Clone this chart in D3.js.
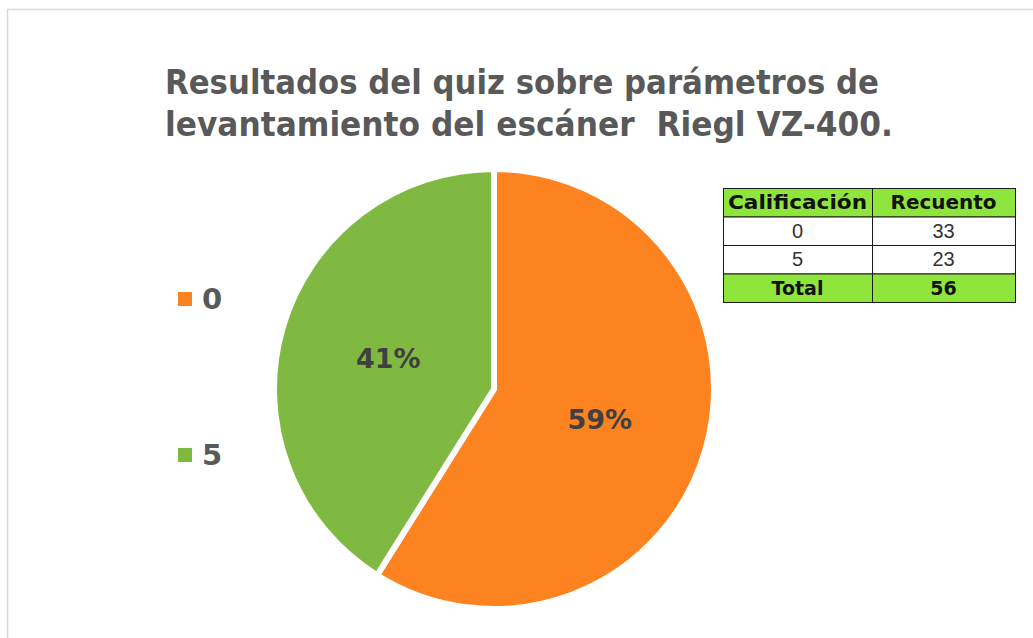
<!DOCTYPE html>
<html>
    <head>
        <title>Resultados del quiz</title>
        <style>
            body { margin: 0; background: #ffffff; }
            svg { display: block; }
        </style>
        <script src="https://cdnjs.cloudflare.com/ajax/libs/d3/7.8.5/d3.min.js" charset="utf-8"></script>
    </head>
    <body>
        <div id="chart"></div>
        <script>
            // data
            const categories = ["0", "5"];
            const counts = [33, 23];
            const colors = ["#fd8320", "#80b942"];
            const titleLines = ["Resultados del quiz sobre parámetros de", "levantamiento del escáner  Riegl VZ-400."];
            const tableHeader = ["Calificación", "Recuento"];
            const totalLabel = "Total";

            const w = 1033;
            const h = 638;
            const total = d3.sum(counts);

            const svg = d3.select("#chart")
                .append("svg")
                .attr("width", w)
                .attr("height", h);

            // chart area border
            svg.append("rect")
                .attr("x", 7.5).attr("y", 9.5)
                .attr("width", 1100).attr("height", 700)
                .attr("fill", "none")
                .attr("stroke", "#d9d9d9")
                .attr("stroke-width", 1.5);

            // title
            svg.selectAll("text.title")
                .data(titleLines)
                .enter()
                .append("text")
                .attr("class", "title")
                .attr("x", 165)
                .attr("y", (d, i) => 94 + i * 42)
                .attr("textLength", (d, i) => i === 0 ? 714 : 728)
                .attr("lengthAdjust", "spacingAndGlyphs")
                .style("font-family", "'DejaVu Sans', sans-serif")
                .style("font-weight", "bold")
                .style("font-size", "33px")
                .style("fill", "#595959")
                .style("white-space", "pre")
                .text(d => d);

            // pie
            const cx = 494, cy = 389, radius = 220;
            const pie = d3.pie().sort(null).value(d => d);
            const arc = d3.arc().innerRadius(0).outerRadius(radius);
            const arcs = pie(counts);

            const g = svg.append("g").attr("transform", "translate(" + cx + "," + cy + ")");

            g.selectAll("path")
                .data(arcs)
                .enter()
                .append("path")
                .attr("d", arc)
                .attr("fill", (d, i) => colors[i])
                .attr("stroke", "#ffffff")
                .attr("stroke-width", 6)
                .attr("stroke-linejoin", "round");

            g.selectAll("text")
                .data(arcs)
                .enter()
                .append("text")
                .attr("transform", d => "translate(" + arc.centroid(d) + ")")
                .attr("text-anchor", "middle")
                .attr("dy", "0.36em")
                .style("font-family", "'DejaVu Sans', sans-serif")
                .style("font-weight", "bold")
                .style("font-size", "27px")
                .style("fill", "#404040")
                .text(d => Math.round(d.data / total * 100) + "%");

            // legend
            const legendY = d3.scalePoint().domain(categories).range([299, 455]);
            const legend = svg.selectAll("g.legend")
                .data(categories)
                .enter()
                .append("g")
                .attr("class", "legend")
                .attr("transform", d => "translate(178," + legendY(d) + ")");

            legend.append("rect")
                .attr("x", 0).attr("y", -7)
                .attr("width", 14).attr("height", 14)
                .attr("fill", (d, i) => colors[i]);

            legend.append("text")
                .attr("x", 24)
                .attr("dy", "0.36em")
                .style("font-family", "'DejaVu Sans', sans-serif")
                .style("font-weight", "bold")
                .style("font-size", "29px")
                .style("fill", "#595959")
                .text(d => d);

            // table
            const rows = [tableHeader].concat(categories.map((c, i) => [c, String(counts[i])])).concat([[totalLabel, String(total)]]);
            const colX = [723, 872, 1015];
            const rowY = d3.scaleLinear().domain([0, rows.length]).range([188, 302]);
            const rowH = rowY(1) - rowY(0);

            const table = svg.append("g");
            rows.forEach((r, ri) => {
                const bold = ri === 0 || ri === rows.length - 1;
                r.forEach((cell, ci) => {
                    table.append("rect")
                        .attr("x", colX[ci] + 0.5)
                        .attr("y", rowY(ri) + 0.5)
                        .attr("width", colX[ci + 1] - colX[ci])
                        .attr("height", rowH)
                        .attr("fill", bold ? "#8ee63c" : "#ffffff")
                        .attr("stroke", "#1a1a1a")
                        .attr("stroke-width", 1);
                    const t = table.append("text")
                        .attr("x", (colX[ci] + colX[ci + 1]) / 2)
                        .attr("y", rowY(ri) + rowH / 2)
                        .attr("dy", "0.36em")
                        .attr("text-anchor", "middle")
                        .style("font-family", bold ? "'DejaVu Sans', sans-serif" : "'Liberation Sans', Arial, sans-serif")
                        .style("font-weight", bold ? "bold" : "normal")
                        .style("font-size", bold ? "19px" : "20px")
                        .style("fill", bold ? "#111111" : "#333333")
                        .text(cell);
                    if (ri === 0) {
                        t.attr("textLength", ci === 0 ? 139 : 106).attr("lengthAdjust", "spacingAndGlyphs");
                    }
                });
            });
        </script>
    </body>
</html>
